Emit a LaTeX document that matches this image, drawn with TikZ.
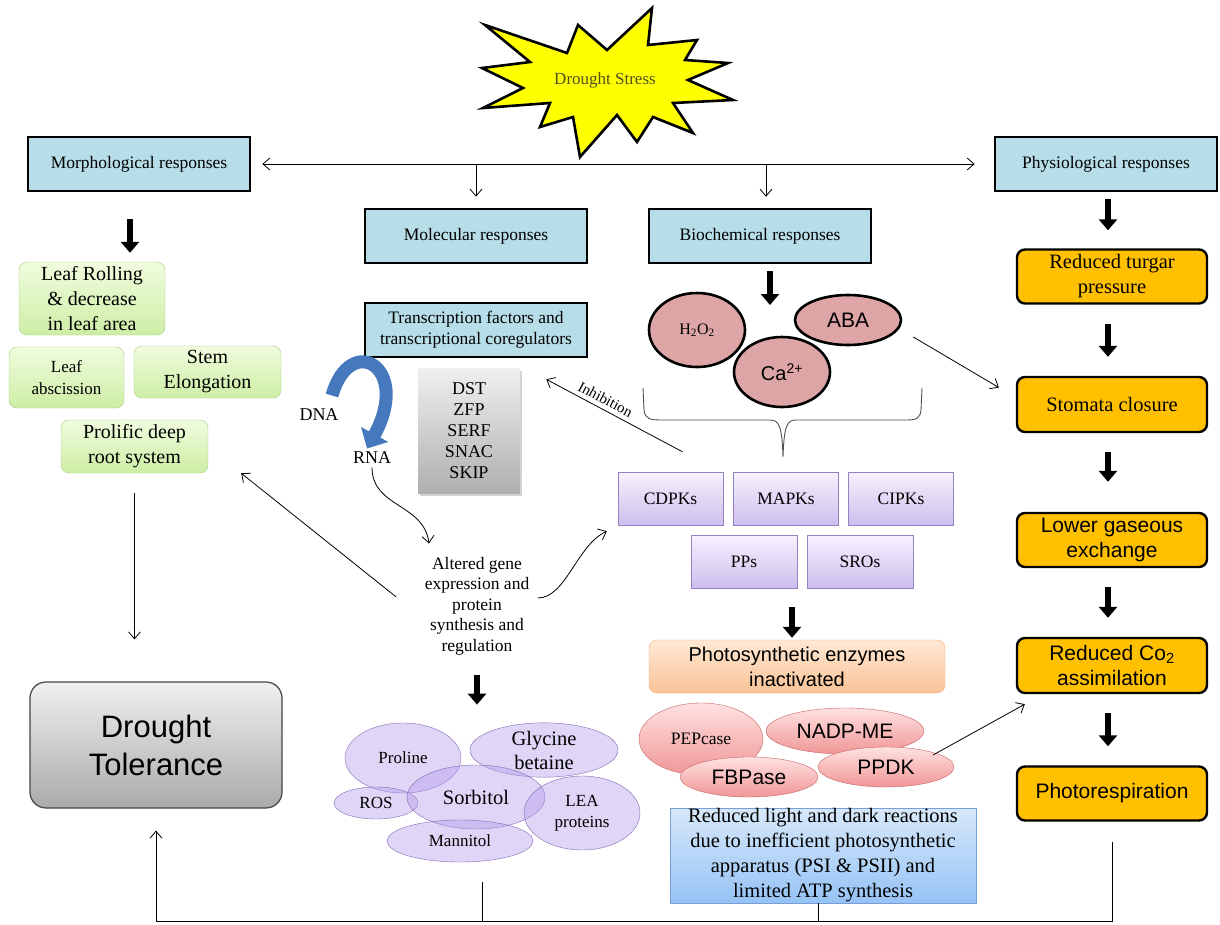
\documentclass[tikz,border=0pt]{standalone}
\usepackage{fontspec}
\setmainfont{Liberation Serif}
\setsansfont{Liberation Sans}
\usetikzlibrary{arrows.meta,shapes.geometric,shadows}
\newcommand{\fsz}[2]{\fontsize{#1}{#2}\selectfont}
\begin{document}
\begin{tikzpicture}[x=1pt,y=-1pt,>={Straight Barb[length=7pt,width=12pt]},
  resp/.style={draw,line width=2.6pt,fill=respblue,minimum width=222,minimum height=54,font=\fsz{17.5}{21}},
  greenbox/.style={draw=greenedge,rounded corners=8,top color=greentop,bottom color=greenbot,align=center,inner sep=0},
  kinase/.style={draw=kinedge,top color=kintop,bottom color=kinbot,minimum width=105,minimum height=53,font=\fsz{17.5}{20}},
  physbox/.style={draw,line width=2.4pt,fill=physorange,rounded corners=8,minimum width=190,minimum height=54,align=center},
  redell/.style={ellipse,draw=rededge,top color=redtop,bottom color=redbot,inner sep=0},
  signal/.style={ellipse,draw,line width=2.6pt,fill=sigpink,inner sep=0},
  osmo/.style={ellipse,draw=osmoedge,fill=osmofill,fill opacity=.42,text opacity=1,inner sep=0,align=center,font=\fsz{17}{21}},
  link/.style={->,line width=.8pt},
  bigarrow/.style={line width=6pt,-{Triangle[length=11pt,width=18pt]},shorten <=19pt,shorten >=19pt}]
\definecolor{respblue}{RGB}{183,221,232}
\definecolor{stressyellow}{RGB}{255,255,0}
\definecolor{stresstext}{RGB}{80,80,30}
\definecolor{greenedge}{RGB}{170,205,130}
\definecolor{greentop}{RGB}{240,252,222}
\definecolor{greenbot}{RGB}{205,238,165}
\definecolor{toltop}{RGB}{240,240,240}
\definecolor{tolbot}{RGB}{170,170,170}
\definecolor{tolborder}{RGB}{70,70,70}
\definecolor{greytop}{RGB}{240,240,240}
\definecolor{greybot}{RGB}{175,175,175}
\definecolor{dnablue}{RGB}{70,120,190}
\definecolor{sigpink}{RGB}{221,165,165}
\definecolor{kinedge}{RGB}{150,130,195}
\definecolor{kintop}{RGB}{246,242,253}
\definecolor{kinbot}{RGB}{205,190,238}
\definecolor{enzedge}{RGB}{240,175,130}
\definecolor{enztop}{RGB}{255,232,212}
\definecolor{enzbot}{RGB}{250,195,150}
\definecolor{rededge}{RGB}{200,100,100}
\definecolor{redtop}{RGB}{255,225,225}
\definecolor{redbot}{RGB}{240,150,150}
\definecolor{ldedge}{RGB}{120,160,215}
\definecolor{ldtop}{RGB}{215,232,250}
\definecolor{ldbot}{RGB}{150,195,245}
\definecolor{osmoedge}{RGB}{130,105,180}
\definecolor{osmofill}{RGB}{180,155,235}
\definecolor{physorange}{RGB}{255,192,0}
\definecolor{bracecol}{RGB}{80,80,80}
\useasboundingbox (0,0) rectangle (1220,924);
\fill[white] (0,0) rectangle (1220,924);
\draw[line width=2.6pt,fill=stressyellow] (652,8) -- (648,45) -- (697,40) -- (685,60) -- (728,63) -- (688,80) -- (733,100) -- (673,103) -- (693,133) -- (653,117) -- (637,142) -- (617,115) -- (580,157) -- (573,117) -- (540,127) -- (550,103) -- (483,108) -- (523,88) -- (482,68) -- (530,62) -- (485,25) -- (567,53) -- (578,25) -- (607,50) -- cycle;
\node[font=\fsz{17}{20},text=stresstext] (stress) at (605,80) {Drought Stress};
\node[resp] (morph) at (139,164) {Morphological responses};
\node[resp] (physio) at (1106,164) {Physiological responses};
\node[resp] (mol) at (476,236) {Molecular responses};
\node[resp] (bioch) at (760,236) {Biochemical responses};
\draw[<->,line width=.8pt,shorten <=11pt,shorten >=19pt] (morph.east) -- (physio.west);
\draw[link,shorten >=11pt] (mol.north |- morph.east) -- (mol.north);
\draw[link,shorten >=11pt] ([xshift=6pt]bioch.north |- morph.east) -- ([xshift=6pt]bioch.north);
\node[greenbox,minimum width=146,minimum height=73,font=\fsz{20}{25}] (leafroll) at (92,298.5) {Leaf Rolling\\\& decrease\\in leaf area};
\node[greenbox,minimum width=115,minimum height=61,font=\fsz{17}{22}] (leafabs) at (66.5,377.5) {Leaf\\abscission};
\node[greenbox,minimum width=147,minimum height=52,font=\fsz{20}{25}] (stem) at (207.5,372) {Stem\\Elongation};
\node[greenbox,minimum width=147,minimum height=53,font=\fsz{20}{25}] (root) at (134.5,446.5) {Prolific deep\\root system};
\draw[bigarrow,shorten <=27pt,shorten >=9pt] ([xshift=-9pt]morph.south) -- ([xshift=-9pt]morph.south |- leafroll.north);
\node[draw=tolborder,line width=1.2pt,rounded corners=16,top color=toltop,bottom color=tolbot,minimum width=252,minimum height=126,align=center,font=\sffamily\fsz{31}{38}] (tol) at (156,745) {Drought\\Tolerance};
\draw[link,shorten <=20pt,shorten >=42pt] (root.south) -- (root.south |- tol.north);
\node[resp,align=center,font=\fsz{17.5}{21}] (tf) at (476,330) {Transcription factors and\\transcriptional coregulators};
\node[top color=greytop,bottom color=greybot,drop shadow={opacity=.35,shadow xshift=2pt,shadow yshift=-3pt},minimum width=102,minimum height=125,align=center,font=\fsz{18}{21}] (genes) at (469,430.5) {DST\\ZFP\\SERF\\SNAC\\SKIP};
\node[font=\fsz{18}{20}] (dna) at (319,415) {DNA};
\node[font=\fsz{18}{20}] (rna) at (372,458) {RNA};
\draw[line width=13pt,dnablue,-{Triangle[length=16pt,width=30pt]}] ([xshift=13pt,yshift=10pt]dna.north) .. controls +(18,-64) and +(45,-82) .. ([xshift=-5pt]rna.north);
\node[align=center,font=\fsz{17.5}{20.5}] (alt) at (477,606) {Altered gene\\expression and\\protein\\synthesis and\\regulation};
\draw[link] (rna.south) .. controls +(0,40) and +(-5,-40) .. ([xshift=-48pt,yshift=10pt]alt.north);
\draw[link] ([xshift=-25pt,yshift=9pt]alt.west) -- ([xshift=33pt]root.south east);
\draw[bigarrow,shorten <=7pt,shorten >=32pt] ([xshift=10pt]bioch.south) -- ([xshift=10pt]bioch.south |- 0,337);
\node[signal,minimum width=96,minimum height=74,font=\fsz{16}{18}] (h2o2) at (697,330) {H\textsubscript{2}O\textsubscript{2}};
\node[signal,minimum width=106,minimum height=50,font=\sffamily\fsz{21}{24}] (aba) at (848,320) {ABA};
\node[signal,minimum width=96,minimum height=70,font=\sffamily\fsz{20}{24}] (ca) at (782,372) {Ca\textsuperscript{2+}};
\draw[line width=.9pt,bracecol] (643,388) -- (644,410) .. controls (645,419) and (650,420) .. (662,420) -- (770,420) .. controls (779,420) and (782,426) .. (783,457) .. controls (784,426) and (787,420) .. (796,420) -- (905,420) .. controls (916,420) and (920,419) .. (921,410) -- (922,388);
\node[kinase] (cdpk) at (670.5,498.5) {CDPKs};
\node[kinase] (mapk) at (786,498.5) {MAPKs};
\node[kinase] (cipk) at (901,498.5) {CIPKs};
\node[kinase,minimum width=106] (pps) at (744,561.5) {PPs};
\node[kinase,minimum width=106] (sros) at (860,561.5) {SROs};
\draw[link,<-] ([xshift=-42pt,yshift=-21pt]tf.south east) -- ([xshift=12pt,yshift=20pt]cdpk.north) node[pos=.4,above=1pt,sloped,font=\fsz{15}{18}] {Inhibition};
\draw[link] ([xshift=5pt,yshift=8pt]alt.east) .. controls +(28,0) and +(-30,14) .. ([xshift=-11pt,yshift=-6pt]cdpk.south west);
\node[draw=enzedge,rounded corners=8,top color=enztop,bottom color=enzbot,minimum width=296,minimum height=53,align=center,font=\sffamily\fsz{20}{25}] (enz) at (797,666.5) {Photosynthetic enzymes\\inactivated};
\draw[bigarrow,shorten <=19pt,shorten >=2pt] ([xshift=-5pt]enz.north |- pps.south) -- ([xshift=-5pt]enz.north);
\node[redell,minimum width=124,minimum height=72,font=\fsz{17.5}{20}] (pep) at (701,739) {PEPcase};
\node[redell,minimum width=158,minimum height=46,font=\sffamily\fsz{21}{24}] (nadp) at (845,731) {NADP-ME};
\node[redell,minimum width=138,minimum height=40,font=\sffamily\fsz{21}{24}] (fbp) at (749,777) {FBPase};
\node[redell,minimum width=136,minimum height=40,font=\sffamily\fsz{21}{24}] (ppdk) at (886,767) {PPDK};
\node[draw=ldedge,top color=ldtop,bottom color=ldbot,minimum width=306,minimum height=95,inner sep=0,align=center,font=\fsz{20.5}{25}] (ld) at (823,855.5) {Reduced light and dark reactions\\due to inefficient photosynthetic\\apparatus (PSI \& PSII) and\\limited ATP synthesis};
\node[physbox,font=\fsz{20.5}{25}] (turgar) at (1112,276.5) {Reduced turgar\\pressure};
\node[physbox,minimum height=55,font=\fsz{20.5}{25}] (stomata) at (1112,404.5) {Stomata closure};
\node[physbox,font=\sffamily\fsz{21}{25}] (gaseous) at (1112,540) {Lower gaseous\\exchange};
\node[physbox,minimum height=55,font=\sffamily\fsz{21}{25}] (co2) at (1112,665.5) {Reduced Co\textsubscript{2}\\assimilation};
\node[physbox,font=\sffamily\fsz{21}{25}] (photoresp) at (1112,793.5) {Photorespiration};
\draw[bigarrow,shorten <=7pt,shorten >=18pt] ([xshift=-4pt]turgar.north |- physio.south) -- ([xshift=-4pt]turgar.north);
\draw[bigarrow] ([xshift=-4pt]turgar.south) -- ([xshift=-4pt]stomata.north);
\draw[bigarrow,shorten >=30pt] ([xshift=-4pt]stomata.south) -- ([xshift=-4pt]gaseous.north);
\draw[bigarrow] ([xshift=-4pt]gaseous.south) -- ([xshift=-4pt]co2.north);
\draw[bigarrow] ([xshift=-4pt]co2.south) -- ([xshift=-4pt]photoresp.north);
\draw[link] ([xshift=11pt,yshift=-17pt]aba.east) -- ([xshift=-17pt,yshift=17pt]stomata.west);
\draw[link] ([xshift=47pt,yshift=12pt]ppdk.center) -- ([xshift=9pt,yshift=-10pt]co2.south west);
\node[osmo,minimum width=116,minimum height=70] (proline) at (403,758) {Proline};
\node[osmo,minimum width=148,minimum height=54,font=\fsz{20.5}{24}] (glycine) at (544,750) {Glycine\\betaine};
\node[osmo,minimum width=84,minimum height=32] (ros) at (376,803) {ROS};
\node[osmo,minimum width=138,minimum height=64,font=\fsz{20.5}{24}] (sorbitol) at (476,797) {Sorbitol};
\node[osmo,minimum width=116,minimum height=74] (lea) at (582,813) {LEA\\proteins};
\node[osmo,minimum width=146,minimum height=42] (mannitol) at (460,841) {Mannitol};
\draw[bigarrow,shorten <=16pt,shorten >=18pt] (alt.south) -- (alt.south |- glycine.north);
\coordinate (floor) at (0,921);
\draw[->,line width=.8pt,shorten >=22pt] ([yshift=-20pt]photoresp.south) |- (tol.south |- floor) -- (tol.south);
\draw[line width=.8pt] ([xshift=-5pt]ld.south) -- ([xshift=-5pt]ld.south |- floor);
\draw[line width=.8pt] ([xshift=22pt,yshift=-20pt]mannitol.south) -- ([xshift=22pt]mannitol.south |- floor);
\end{tikzpicture}
\end{document}
